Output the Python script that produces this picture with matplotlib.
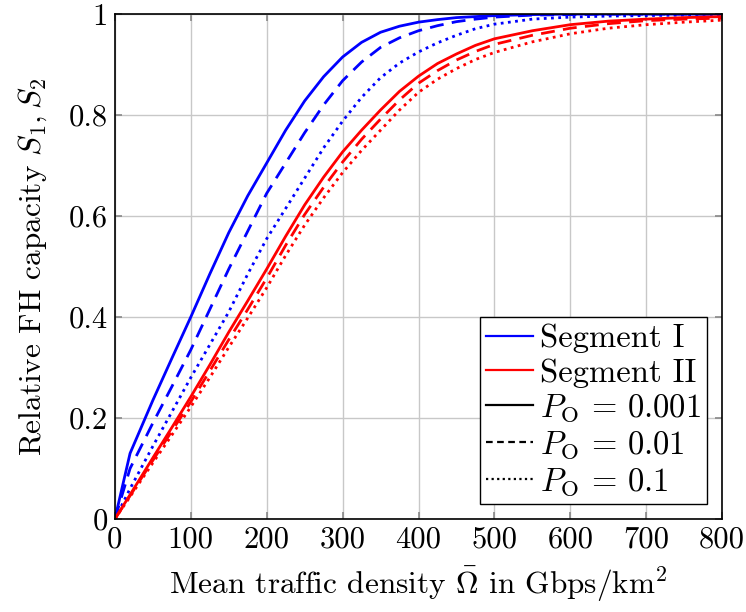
import matplotlib
matplotlib.use("Agg")
import matplotlib.pyplot as plt
from matplotlib.lines import Line2D

plt.rcParams['font.family'] = 'serif'
plt.rcParams['font.serif'] = ['cmr10']
plt.rcParams['mathtext.fontset'] = 'cm'
plt.rcParams['axes.formatter.use_mathtext'] = True

x = [0, 20, 50, 75, 100, 125, 150, 175, 200, 225, 250, 275, 300, 325, 350, 375,
     400, 425, 450, 475, 500, 550, 600, 650, 700, 750, 800]

s1_p001 = [0, 0.13, 0.235, 0.318, 0.40, 0.485, 0.567, 0.64, 0.705, 0.77, 0.828, 0.876, 0.915, 0.944,
           0.964, 0.976, 0.984, 0.989, 0.993, 0.995, 0.997, 0.999, 1.0, 1.0, 1.0, 1.0, 1.0]
s1_p01  = [0, 0.10, 0.19, 0.262, 0.335, 0.415, 0.495, 0.57, 0.645, 0.705, 0.765, 0.82, 0.868, 0.905,
           0.934, 0.953, 0.967, 0.977, 0.985, 0.99, 0.994, 0.998, 0.999, 1.0, 1.0, 1.0, 1.0]
s1_p1   = [0, 0.06, 0.144, 0.212, 0.28, 0.345, 0.41, 0.485, 0.555, 0.615, 0.675, 0.735, 0.788, 0.835,
           0.874, 0.903, 0.925, 0.943, 0.958, 0.971, 0.98, 0.99, 0.994, 0.996, 0.997, 0.998, 0.998]

s2_p001 = [0, 0.048, 0.121, 0.181, 0.242, 0.305, 0.37, 0.432, 0.495, 0.56, 0.622, 0.677, 0.727, 0.77,
           0.81, 0.847, 0.877, 0.902, 0.921, 0.938, 0.951, 0.967, 0.979, 0.986, 0.99, 0.993, 0.995]
s2_p01  = [0, 0.046, 0.116, 0.174, 0.232, 0.293, 0.355, 0.415, 0.477, 0.542, 0.603, 0.657, 0.707, 0.752,
           0.792, 0.83, 0.863, 0.888, 0.909, 0.926, 0.94, 0.958, 0.972, 0.981, 0.987, 0.99, 0.992]
s2_p1   = [0, 0.044, 0.111, 0.166, 0.222, 0.28, 0.34, 0.398, 0.458, 0.522, 0.582, 0.636, 0.686, 0.73,
           0.77, 0.81, 0.845, 0.871, 0.892, 0.91, 0.924, 0.945, 0.961, 0.972, 0.979, 0.984, 0.988]

xticks = [0, 100, 200, 300, 400, 500, 600, 700, 800]
yticks = [0, 0.2, 0.4, 0.6, 0.8, 1]
ytick_labels = ['0', '0.2', '0.4', '0.6', '0.8', '1']

fig = plt.figure(figsize=(7.46, 6.12), dpi=100)
ax = fig.add_axes([0.154, 0.152, 0.814, 0.825])

lw = 2.0
dash = (0, (5, 3))
dot = (0, (1, 1.6))
ax.plot(x, s1_p001, color='#0000ff', lw=lw, ls='-')
ax.plot(x, s1_p01, color='#0000ff', lw=lw, ls=dash)
ax.plot(x, s1_p1, color='#0000ff', lw=lw, ls=dot)
ax.plot(x, s2_p001, color='#ff0000', lw=lw, ls='-')
ax.plot(x, s2_p01, color='#ff0000', lw=lw, ls=dash)
ax.plot(x, s2_p1, color='#ff0000', lw=lw, ls=dot)

ax.set_xlim(0, 800)
ax.set_ylim(0, 1)
ax.set_xticks(xticks)
ax.set_xticklabels([str(v) for v in xticks])
ax.set_yticks(yticks)
ax.set_yticklabels(ytick_labels)
ax.grid(True, color='#c8c8c8', lw=1.0)
ax.tick_params(direction='in', top=True, right=True, length=5, width=1.2,
               color='#888888', labelsize=22, pad=5)
for sp in ax.spines.values():
    sp.set_linewidth(1.2)

ax.set_xlabel(r"Mean traffic density $\bar{\Omega}$ in $\mathrm{Gbps}/\mathrm{km}^2$", fontsize=22.5, labelpad=8)
ax.set_ylabel(r"Relative FH capacity $S_1, S_2$", fontsize=22.5, labelpad=14)

handles = [
    Line2D([], [], color='#0000ff', lw=1.6, ls='-'),
    Line2D([], [], color='#ff0000', lw=1.6, ls='-'),
    Line2D([], [], color='black', lw=1.6, ls='-'),
    Line2D([], [], color='black', lw=1.6, ls=(0, (3, 2))),
    Line2D([], [], color='black', lw=1.6, ls=(0, (1, 1.5))),
]
labels = ['Segment I', 'Segment II', r'$P_\mathrm{O}\,=\,0.001$', r'$P_\mathrm{O}\,=\,0.01$', r'$P_\mathrm{O}\,=\,0.1$']
leg = ax.legend(handles, labels, loc='lower right', fontsize=23.5, fancybox=False,
                edgecolor='black', framealpha=1, handlelength=1.45, handletextpad=0.2,
                labelspacing=0.15, borderpad=0.2, borderaxespad=0.45)
leg.get_frame().set_linewidth(1.0)

fig.savefig('out.png', dpi=100)
